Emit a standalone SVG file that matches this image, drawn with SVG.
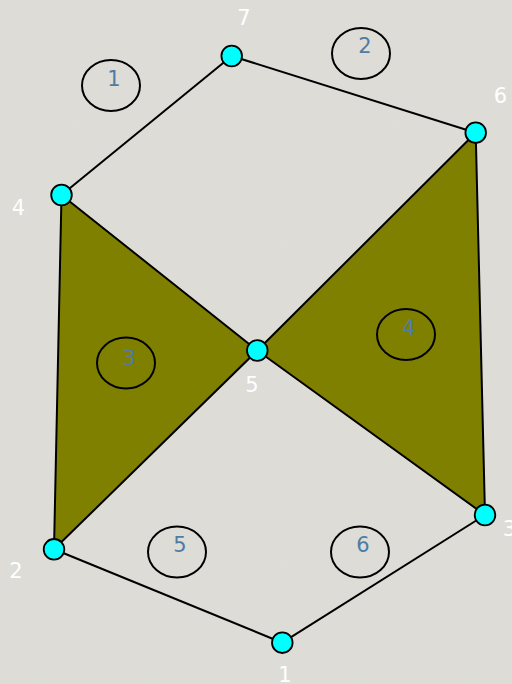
<svg xmlns="http://www.w3.org/2000/svg" width="512" height="684" viewBox="0 0 512 684">
<defs>
<filter id="tex" x="0" y="0" width="100%" height="100%">
<feTurbulence type="fractalNoise" baseFrequency="0.8" numOctaves="2" seed="3" result="n"/>
<feColorMatrix in="n" type="matrix" values="0 0 0 0 0.86  0 0 0 0 0.86  0 0 0 0 0.83  0 0 0 0.12 0"/>
</filter>
<style>
.bg{fill:#dcdbd5}
.face{fill:#808000;stroke:#000;stroke-width:2;stroke-linejoin:round}
.edge{stroke:#000;stroke-width:2;fill:none}
.node{fill:#00ffff;stroke:#000;stroke-width:1.8}
.vl{fill:#ffffff;font-family:"DejaVu Sans",Verdana,sans-serif;font-size:21px;text-anchor:middle}
.ring{fill:none;stroke:#000;stroke-width:2}
.fl{fill:#4f7ca3;font-family:"DejaVu Sans",Verdana,sans-serif;font-size:21px;text-anchor:middle}
</style>
</defs>
<rect class="bg" x="0" y="0" width="512" height="684"/>
<rect x="0" y="0" width="512" height="684" filter="url(#tex)"/>
<g id="faces">
<polygon id="face3" class="face" points="61.5,195 257.3,350.5 54,549.3"/>
<polygon id="face4" class="face" points="475.7,132.7 257.3,350.5 485,515"/>
</g>
<g id="connectors">
<line class="edge" x1="231.7" y1="56" x2="61.5" y2="195"/>
<line class="edge" x1="231.7" y1="56" x2="475.7" y2="132.7"/>
<line class="edge" x1="54" y1="549.3" x2="282.3" y2="642.7"/>
<line class="edge" x1="282.3" y1="642.7" x2="485" y2="515"/>
</g>
<g id="f1"><ellipse class="ring" cx="111" cy="85.5" rx="29" ry="25.5"/><text class="fl" x="114" y="86">1</text></g>
<g id="f2"><ellipse class="ring" cx="361" cy="53.5" rx="29" ry="25.5"/><text class="fl" x="365" y="53">2</text></g>
<g id="f3"><ellipse class="ring" cx="126" cy="363" rx="29" ry="25.5"/><text class="fl" x="129" y="365">3</text></g>
<g id="f4"><ellipse class="ring" cx="406" cy="334.5" rx="29" ry="25.5"/><text class="fl" x="409" y="335">4</text></g>
<g id="f5"><ellipse class="ring" cx="177" cy="552" rx="29" ry="25.5"/><text class="fl" x="180" y="552">5</text></g>
<g id="f6"><ellipse class="ring" cx="360" cy="552" rx="29" ry="25.5"/><text class="fl" x="363" y="552">6</text></g>
<g id="n7"><circle class="node" cx="231.7" cy="56" r="10.3"/><text class="vl" x="244" y="25">7</text></g>
<g id="n6"><circle class="node" cx="475.7" cy="132.7" r="10.3"/><text class="vl" x="500.5" y="103">6</text></g>
<g id="n4"><circle class="node" cx="61.5" cy="195" r="10.3"/><text class="vl" x="18.5" y="215">4</text></g>
<g id="n5"><circle class="node" cx="257.3" cy="350.5" r="10.3"/><text class="vl" x="252" y="392">5</text></g>
<g id="n2"><circle class="node" cx="54" cy="549.3" r="10.3"/><text class="vl" x="16" y="578">2</text></g>
<g id="n3"><circle class="node" cx="485" cy="515" r="10.3"/><text class="vl" x="509.5" y="536">3</text></g>
<g id="n1"><circle class="node" cx="282.3" cy="642.7" r="10.3"/><text class="vl" x="285" y="682">1</text></g>
</svg>
